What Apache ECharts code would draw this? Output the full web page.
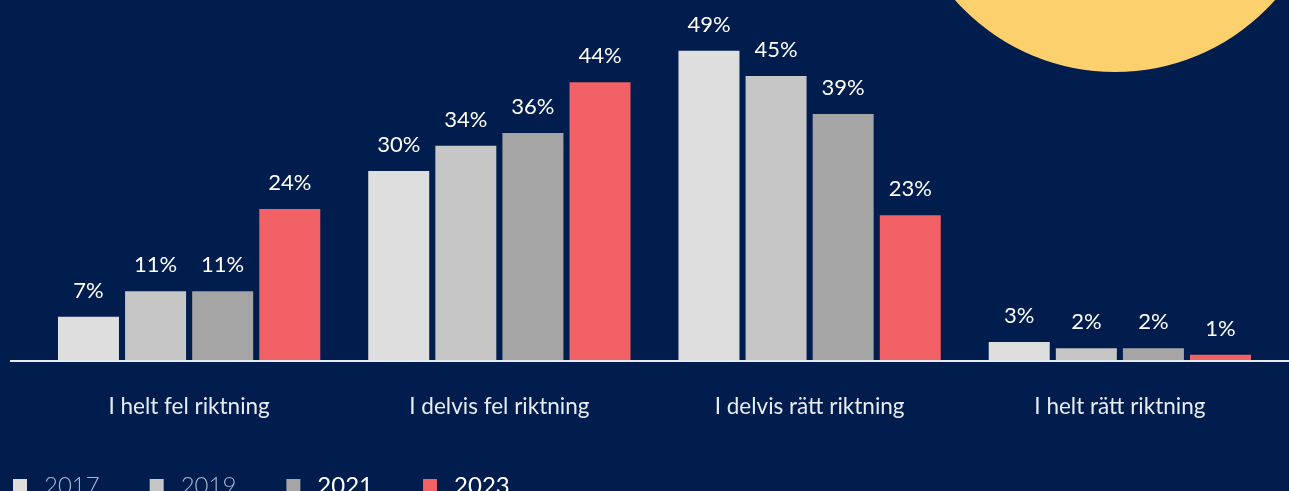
<!DOCTYPE html>
<html>
<head>
<meta charset="utf-8">
<script src="https://cdn.jsdelivr.net/npm/echarts@6/dist/echarts.min.js"></script>
<style>
html,body{margin:0;padding:0;background:#011d4e;}
#chart{width:1289px;height:491px;}
</style>
</head>
<body>
<div id="chart"></div>
<script>
const categories = ['I helt fel riktning', 'I delvis fel riktning', 'I delvis rätt riktning', 'I helt rätt riktning'];
const years = ['2017', '2019', '2021', '2023'];
const values2017 = [7, 30, 49, 3];
const values2019 = [11, 34, 45, 2];
const values2021 = [11, 36, 39, 2];
const values2023 = [24, 44, 23, 1];
const colors = ['#dedede', '#c6c6c6', '#a5a5a5', '#f26165'];
const legendTextColors = ['#a9b6d0', '#a9b6d0', '#ffffff', '#ffffff'];
const legendWeights = [300, 300, 400, 400];

const allValues = [values2017, values2019, values2021, values2023];

const chart = echarts.init(document.getElementById('chart'));
const series = years.map((y, i) => ({
  name: y,
  type: 'bar',
  data: allValues[i],
  barWidth: 61,
  barGap: '10%',
  itemStyle: { color: colors[i] },
  label: {
    show: true,
    position: 'top',
    distance: 15,
    formatter: '{c}%',
    color: '#ffffff',
    fontFamily: 'Lato',
    fontSize: 22
  }
}));

chart.setOption({
  backgroundColor: '#011d4e',
  animation: false,
  graphic: [
    { type: 'circle', shape: { cx: 1115, cy: -142, r: 214 }, style: { fill: '#fdd06e' }, z: 0 },
    { type: 'rect', shape: { x: 10, y: 360, width: 1279, height: 2 }, style: { fill: '#e6e9f0' }, z: 10 }
  ],
  grid: { left: 34, right: 14, top: 0, bottom: 130 },
  legend: {
    left: 8,
    top: 469,
    itemWidth: 14,
    itemHeight: 14,
    itemGap: 50,
    icon: 'rect',
    data: years.map((y, i) => ({
      name: y,
      textStyle: { color: legendTextColors[i], fontWeight: legendWeights[i], fontFamily: 'Lato', fontSize: 24 }
    })),
    textStyle: { fontFamily: 'Lato', fontSize: 24, padding: [0, 0, 0, 12] }
  },
  xAxis: {
    type: 'category',
    data: categories,
    axisLine: { show: false },
    axisTick: { show: false },
    axisLabel: { color: '#e8ecf3', fontFamily: 'Lato', fontSize: 22.5, margin: 34 }
  },
  yAxis: {
    type: 'value',
    min: 0,
    max: 57,
    show: false,
    splitLine: { show: false }
  },
  series: series
});
</script>
</body>
</html>
